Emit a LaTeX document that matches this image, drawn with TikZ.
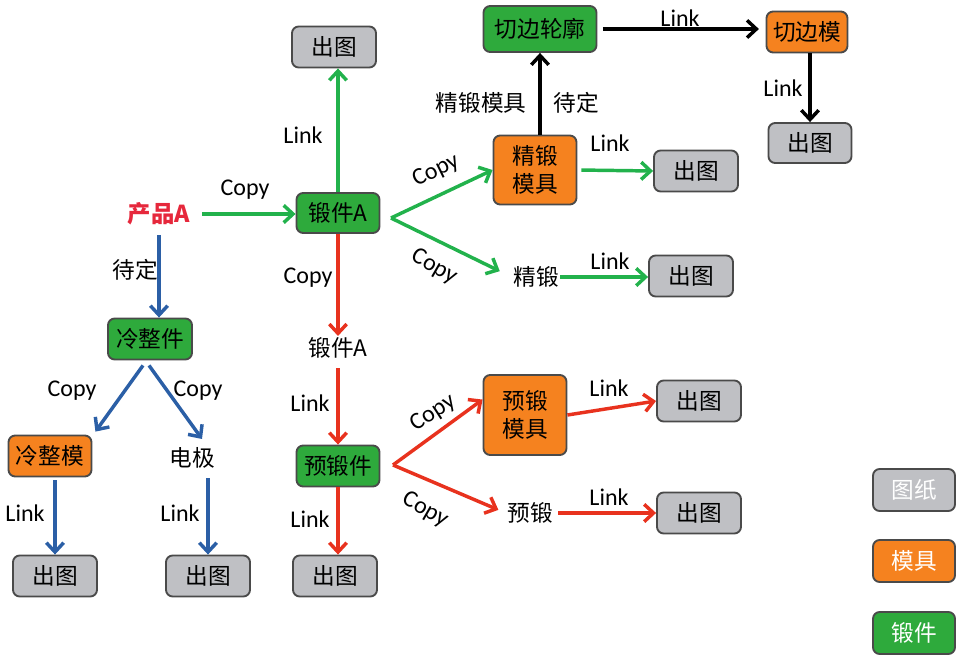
\documentclass[tikz,border=0pt]{standalone}
\usepackage{fontspec}
\setmainfont{Carlito}
\newfontfamily\cjk{Noto Sans CJK SC}
\usetikzlibrary{arrows.meta,calc}
\definecolor{gfill}{HTML}{2EAA3C}
\definecolor{ofill}{HTML}{F5821F}
\definecolor{bfill}{HTML}{BFC0C4}
\definecolor{bord}{HTML}{4A4A4A}
\definecolor{garr}{HTML}{22B24C}
\definecolor{rarr}{HTML}{E8321E}
\definecolor{barr}{HTML}{2B5FA6}
\definecolor{redtxt}{HTML}{E6283C}
\tikzset{
  box/.style={draw=bord, line width=1.4pt, rounded corners=5pt, inner sep=0pt, align=center,
    font=\cjk\fontsize{17}{21}\selectfont},
  graybox/.style={box, fill=bfill, minimum width=84*0.75pt, minimum height=41*0.75pt},
  orgbox/.style={box, fill=ofill},
  grnbox/.style={box, fill=gfill},
  plain/.style={inner sep=1pt, font=\cjk\fontsize{17}{21}\selectfont},
  lbl/.style={inner sep=0pt, font=\fontsize{18}{20}\selectfont},
  clbl/.style={inner sep=0pt, font=\cjk\fontsize{17}{20}\selectfont},
  arr/.style={line width=2.6pt, -{Straight Barb[length=7pt,width=13pt,line width=2.6pt]}},
  ga/.style={arr, draw=garr},
  ra/.style={arr, draw=rarr},
  ba/.style={arr, draw=barr},
  ka/.style={arr, draw=black},
}
\begin{document}
\begin{tikzpicture}[x=0.75pt,y=-0.75pt]
\useasboundingbox (0,0) rectangle (963,660);
% nodes
\node[graybox] (outtop) at (334,47) {出图};
\node[inner sep=1pt, text=redtxt, font=\cjk\bfseries\fontsize{17.5}{21}\selectfont] (chanpin) at (159,214) {产品A};
\node[grnbox, minimum width=83*0.75pt, minimum height=40*0.75pt] (duanA) at (338,213) {锻件A};
\node[grnbox, minimum width=84*0.75pt, minimum height=41*0.75pt] (lzj) at (150,339) {冷整件};
\node[orgbox, minimum width=83*0.75pt, minimum height=41*0.75pt] (lzm) at (50,456) {冷整模};
\node[plain] (dianji) at (192,458) {电极};
\node[graybox] (out1) at (55,576) {出图};
\node[graybox] (out2) at (208,576) {出图};
\node[plain] (duanAt) at (338,348) {锻件A};
\node[grnbox, minimum width=83*0.75pt, minimum height=41*0.75pt] (ydj) at (338,466) {预锻件};
\node[graybox] (out3) at (335,576) {出图};
\node[orgbox, minimum width=83*0.75pt, minimum height=80*0.75pt] (ydmj) at (525,415) {预锻\\模具};
\node[graybox] (out4) at (699,401) {出图};
\node[plain] (yd) at (530,513) {预锻};
\node[graybox] (out5) at (699,513) {出图};
\node[orgbox, minimum width=83*0.75pt, minimum height=69*0.75pt] (jdmj) at (535,170) {精锻\\模具};
\node[graybox] (out6) at (696,171) {出图};
\node[plain] (jd) at (536,277) {精锻};
\node[graybox] (out7) at (691,276) {出图};
\node[grnbox, minimum width=113*0.75pt, minimum height=46*0.75pt] (qblk) at (540,29) {切边轮廓};
\node[orgbox, minimum width=81*0.75pt, minimum height=41*0.75pt] (qbm) at (807,32) {切边模};
\node[graybox, minimum width=83*0.75pt, minimum height=40*0.75pt] (out8) at (810,143) {出图};
% legend
\node[graybox, minimum width=82*0.75pt, minimum height=42*0.75pt, text=white] (leg1) at (914,490) {图纸};
\node[orgbox, minimum width=82*0.75pt, minimum height=42*0.75pt, text=white] (leg2) at (914,561) {模具};
\node[grnbox, minimum width=82*0.75pt, minimum height=42*0.75pt, text=white] (leg3) at (914,633) {锻件};
% split points
\coordinate (gsplit) at (391,218);
\coordinate (rsplit) at (393,465);
% green arrows
\draw[ga, shorten <=8pt] (chanpin.east) -- (chanpin.east -| duanA.west);
\draw[ga] (duanA.north) -- (duanA.north |- outtop.south);
\draw[ga] (gsplit) -- (jdmj.west);
\draw[ga, shorten >=10pt] (gsplit) -- (jd.west);
\draw[ga, shorten <=3pt] (jdmj.east) -- (out6.west);
\draw[ga] (jd.east) -- (jd.east -| out7.west);
% black arrows
\draw[ka] (jdmj.north -| qblk.south) -- (qblk.south);
\draw[ka, shorten <=4pt, shorten >=5pt] (qblk.east) -- (qblk.east -| qbm.west);
\draw[ka] (qbm.south -| out8.north) -- (out8.north);
% red arrows
\draw[ra] (duanA.south) -- (duanA.south |- duanAt.north);
\draw[ra, shorten <=6pt] (duanAt.south) -- (duanAt.south |- ydj.north);
\draw[ra] (ydj.south) -- (ydj.south |- out3.north);
\draw[ra] (rsplit) -- (ydmj.160);
\draw[ra, shorten >=6pt] (rsplit) -- (yd.west);
\draw[ra] (ydmj.east) -- (out4.west);
\draw[ra, shorten <=3pt] (yd.east) -- (yd.east -| out5.west);
% blue arrows
\draw[ba, shorten <=6pt] (chanpin.south) -- (chanpin.south |- lzj.north);
\draw[ba] ($(lzj.south)+(-7,5)$) -- ($(lzm.north east)+(3,-3)$);
\draw[ba] ($(lzj.south)+(-1,5)$) -- ($(dianji.north)+(10,-7)$);
\draw[ba, shorten <=2pt] (lzm.south -| out1.north) -- (out1.north);
\draw[ba, shorten <=6pt] (dianji.south -| out2.north) -- (out2.north);
% labels
\node[lbl] (l1) at (245,190) {Copy};
\node[lbl] (l2) at (303,135) {Link};
\node[clbl] (l3) at (135,270) {待定};
\node[lbl] (l4) at (308,278) {Copy};
\node[lbl] (l5) at (72,391) {Copy};
\node[lbl] (l6) at (198,391) {Copy};
\node[lbl] (l7) at (25,513) {Link};
\node[lbl] (l8) at (180,513) {Link};
\node[lbl] (l9) at (310,403) {Link};
\node[lbl] (l10) at (310,519) {Link};
\node[lbl, rotate=33] (l11) at (433,413) {Copy};
\node[lbl, rotate=-30] (l12) at (425,510) {Copy};
\node[lbl] (l13) at (609,388) {Link};
\node[lbl] (l14) at (609,497) {Link};
\node[lbl, rotate=26] (l15) at (436,171) {Copy};
\node[lbl, rotate=-30] (l16) at (434,267) {Copy};
\node[lbl] (l17) at (610,143) {Link};
\node[lbl] (l18) at (610,261) {Link};
\node[clbl] (l19) at (481,103) {精锻模具};
\node[clbl] (l20) at (576,103) {待定};
\node[lbl] (l21) at (680,18) {Link};
\node[lbl] (l22) at (783,88) {Link};
\end{tikzpicture}
\end{document}
